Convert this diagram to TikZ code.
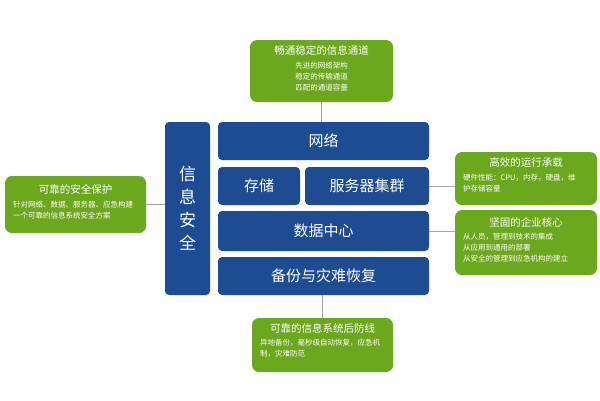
\documentclass[tikz,border=0pt]{standalone}
\usepackage{fontspec}
\setmainfont{Noto Sans CJK SC}
\begin{document}
\begin{tikzpicture}[x=1pt,y=-1pt,
 gbox/.style={fill=grn,draw=none,rounded corners=7pt,inner sep=0pt},
 gtitle/.style={text=white,font=\fontsize{10.5}{14}\selectfont,inner sep=0pt},
 gtext/.style={text=white,font=\fontsize{7.5}{11}\selectfont,inner sep=0pt},
 bbox/.style={fill=blu,draw=none,rounded corners=4pt,text=white,inner sep=0pt,font=\fontsize{15}{17}\selectfont},
 conn/.style={draw=gray!70,line width=0.7pt}]
\definecolor{grn}{HTML}{6BA81E}
\definecolor{blu}{HTML}{1E4C92}
\useasboundingbox (0,0) rectangle (600,400);
% blue blocks
\node[bbox,minimum width=211,minimum height=38] (net) at (323.5,141) {网络};
\node[bbox,minimum width=82,minimum height=38] (sto) at (259,186) {存储};
\node[bbox,minimum width=124,minimum height=38] (srv) at (367,186) {服务器集群};
\node[bbox,minimum width=211,minimum height=40] (dc) at (323.5,231) {数据中心};
\node[bbox,minimum width=211,minimum height=38] (bak) at (323.5,276) {备份与灾难恢复};
\node[bbox,minimum width=45,minimum height=173,align=center,font=\fontsize{17}{23}\selectfont] (sec) at (187.5,208.5) {信\\息\\安\\全};
% green boxes
\node[gbox,minimum width=143,minimum height=62] (top) at (321.5,71) {};
\node[gtitle] (topt) at (321.5,50) {畅通稳定的信息通道};
\node[gtext,align=center] (topx) at (321.5,77) {先进的网络架构\\稳定的传输通道\\匹配的通道容量};
\node[gbox,minimum width=141,minimum height=57] (lft) at (75.5,204.5) {};
\node[gtitle] (lftt) at (75.5,189) {可靠的安全保护};
\node[gtext,align=left,anchor=north west] (lftx) at (13,201) {针对网络、数据、服务器、应急构建\\一个可靠的信息系统安全方案};
\node[gbox,minimum width=142,minimum height=53] (rt) at (526,178.5) {};
\node[gtitle] (rtt) at (526,163) {高效的运行承载};
\node[gtext,align=left,anchor=north west] (rtx) at (463,174) {硬件性能：CPU，内存，硬盘，维\\护存储容量};
\node[gbox,minimum width=142,minimum height=65] (rb) at (526,242.5) {};
\node[gtitle] (rbt) at (526,222) {坚固的企业核心};
\node[gtext,align=left,anchor=north west] (rbx) at (463,233) {从人员，管理到技术的集成\\从应用到通用的部署\\从安全的管理到应急机构的建立};
\node[gbox,minimum width=141,minimum height=54] (bot) at (322.5,345) {};
\node[gtitle] (bott) at (322.5,328) {可靠的信息系统后防线};
\node[gtext,align=left,anchor=north west] (botx) at (260,339) {异地备份，毫秒级自动恢复，应急机\\制，灾难防范};
% connectors
\draw[conn] (top.south) -- (top.south |- net.north);
\draw[conn] (bak.south -| bot.north) -- (bot.north);
\draw[conn] (lft.east) -- (sec.west |- lft.east);
\draw[conn] (srv.east) -- (rt.west |- srv.east);
\draw[conn] (dc.east) -- (rb.west |- dc.east);
\end{tikzpicture}
\end{document}
